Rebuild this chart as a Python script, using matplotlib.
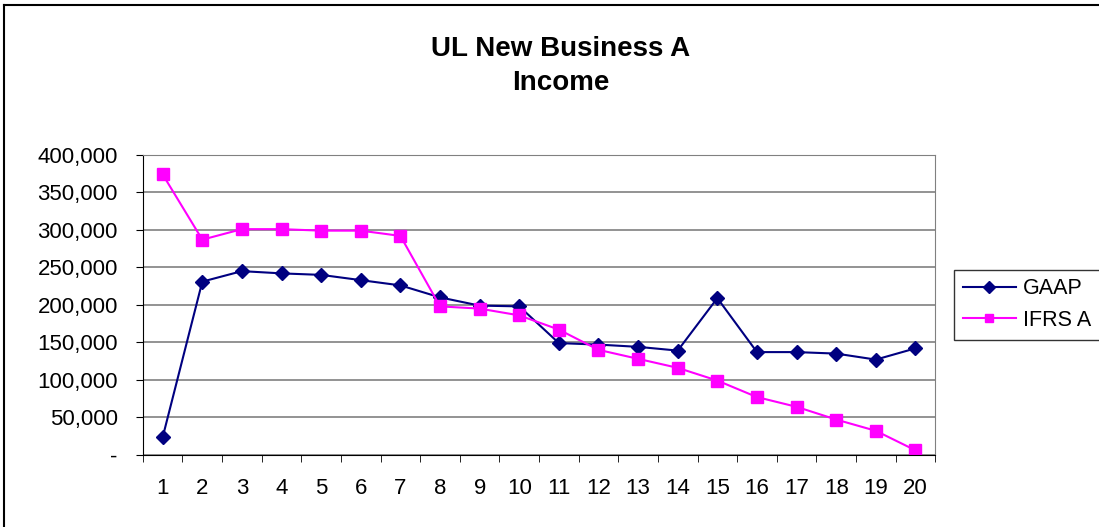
import matplotlib
matplotlib.use("Agg")
import matplotlib.pyplot as plt
from matplotlib.ticker import FuncFormatter, FixedLocator
from matplotlib.lines import Line2D

# --- data ---
years = list(range(1, 21))
gaap = [23500, 231000, 245000, 242000, 240000, 233000, 226000, 210000, 199000, 198000,
        149000, 147000, 144000, 139000, 209000, 137000, 137000, 135000, 127000, 142000]
ifrs_a = [374000, 287000, 301000, 301000, 299000, 299000, 292000, 198000, 195000, 186000,
          167000, 140000, 128000, 116000, 99000, 77000, 64000, 47000, 32000, 6000]
title = "UL New Business A\nIncome"

plt.rcParams['font.family'] = ['Liberation Sans', 'DejaVu Sans']

fig = plt.figure(figsize=(10.99, 5.27), dpi=100)
# chart frame: only the top and left edges fall inside the picture
fig.lines.append(Line2D([0.004, 1.0], [0.991, 0.991], transform=fig.transFigure,
                        color='black', lw=1.5))
fig.lines.append(Line2D([0.004, 0.004], [0.0, 0.991], transform=fig.transFigure,
                        color='black', lw=1.5))

ax = fig.add_axes([0.130, 0.137, 0.721, 0.569])
ax.plot(years, gaap, color='#000080', marker='D', markersize=7, lw=1.5, label='GAAP')
ax.plot(years, ifrs_a, color='#FF00FF', marker='s', markersize=8, lw=1.5, label='IFRS A')

ax.set_xlim(0.5, 20.5)
ax.set_ylim(0, 400000)
ax.set_yticks(range(0, 400001, 50000))
ax.yaxis.set_major_formatter(FuncFormatter(lambda v, p: '-' if v == 0 else f'{int(v):,}'))
ax.set_xticks(years)
ax.xaxis.set_minor_locator(FixedLocator([i + 0.5 for i in range(0, 21)]))
ax.tick_params(axis='x', which='major', length=0, labelsize=16, pad=17)
ax.tick_params(axis='x', which='minor', length=5, direction='out', color='black')
ax.tick_params(axis='y', length=5, direction='out', labelsize=16, pad=13)

ax.grid(axis='y', color='#808080', lw=1.2)
ax.set_axisbelow(True)
for side in ['top', 'right']:
    ax.spines[side].set_color('#808080')
for side in ['left', 'bottom']:
    ax.spines[side].set_color('black')

fig.text(0.51, 0.875, title, ha='center', va='center', fontsize=20,
         fontweight='bold', linespacing=1.4)

leg = fig.legend(loc='center left', bbox_to_anchor=(0.868, 0.422), fontsize=15.5,
                 frameon=True, fancybox=False, edgecolor='black', handlelength=2.5,
                 borderpad=0.4, borderaxespad=0.0, labelspacing=0.5,
                 handletextpad=0.3)
leg.get_frame().set_linewidth(1.0)
for h in leg.legend_handles:
    h.set_markersize(6)

fig.savefig('out.png', dpi=100)
